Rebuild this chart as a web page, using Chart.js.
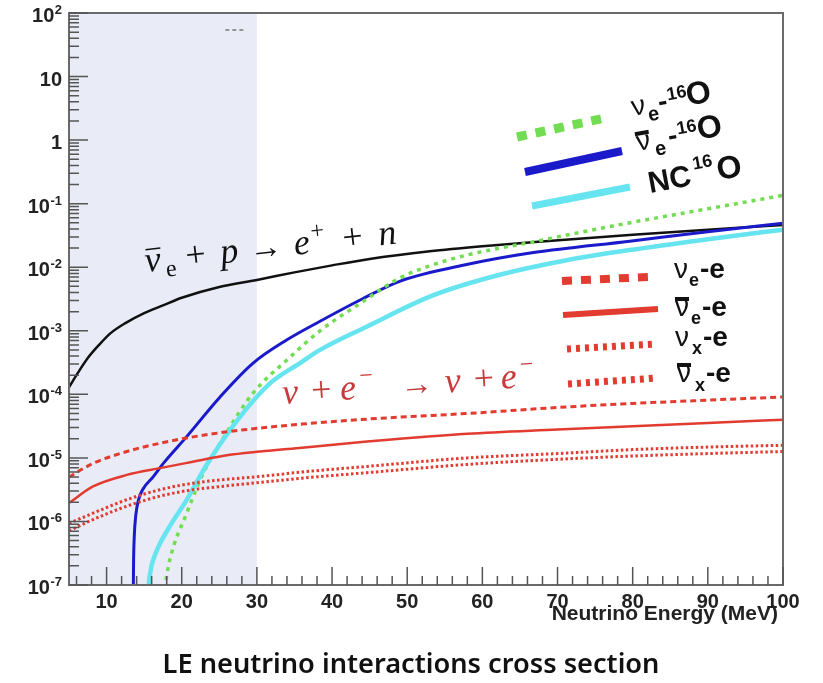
<!DOCTYPE html>
<html>
<head>
<meta charset="utf-8">
<script src="https://cdn.jsdelivr.net/npm/chart.js@4.4.0/dist/chart.umd.min.js"></script>
<style>
html, body { margin: 0; padding: 0; background: #fff; }
#c { display: block; }
</style>
</head>
<body>
<canvas id="c" width="823" height="683"></canvas>
<script>
// energies (MeV) and cross sections

// anti-nu_e + p -> e+ + n
const ibdE = [5, 6.2, 7.5, 9, 10.5, 12.5, 15, 17.5, 20, 25, 30, 35, 40, 45, 53, 60, 67, 80, 90, 100]
const ibdSigma = [1.29e-4, 2.19e-4, 3.72e-4, 6.0e-4, 9.1e-4, 1.32e-3, 1.9e-3, 2.51e-3, 3.31e-3, 4.9e-3, 6.3e-3, 8.3e-3, 1.07e-2, 1.35e-2, 1.78e-2, 2.14e-2, 2.5e-2, 3.24e-2, 3.9e-2, 4.6e-2]

// anti-nu_e - 16O
const nuebarOE = [13.555, 13.595, 13.69, 13.89, 14.25, 14.85, 16.22, 17.55, 20.66, 25.1, 29.5, 34, 38.4, 44, 49, 57.9, 66.8, 79.6, 90, 100]
const nuebarOSigma = [8.4e-8, 2.45e-7, 6.0e-7, 1.26e-6, 2.19e-6, 3.24e-6, 5.07e-6, 8.2e-6, 2.16e-5, 9.1e-5, 3.1e-4, 7.2e-4, 1.41e-3, 3.16e-3, 6.0e-3, 1.1e-2, 1.7e-2, 2.57e-2, 3.63e-2, 4.9e-2]

// nu_e - 16O
const nueOE = [17.5, 18.4, 20.66, 22.87, 25.1, 29.5, 34, 38.4, 44, 49, 53, 57.9, 66.8, 78.3, 90, 100]
const nueOSigma = [6.3e-8, 2.45e-7, 1.35e-6, 5.75e-6, 1.7e-5, 1.05e-4, 3.47e-4, 1.0e-3, 2.82e-3, 6.76e-3, 1.05e-2, 1.55e-2, 2.51e-2, 4.68e-2, 8.3e-2, 0.135]

// NC 16O
const ncOE = [15.55, 15.71, 15.98, 16.44, 17.11, 18.44, 20.66, 23.32, 27.31, 31.74, 35.73, 38.4, 44.6, 53.5, 62.3, 71.2, 79.6, 90, 100]
const ncOSigma = [8.4e-8, 1.29e-7, 2.0e-7, 2.97e-7, 4.5e-7, 8.5e-7, 2.19e-6, 7.8e-6, 3.8e-5, 1.49e-4, 3.1e-4, 5.0e-4, 1.16e-3, 3.63e-3, 7.6e-3, 1.29e-2, 1.86e-2, 2.75e-2, 3.9e-2]

// nu - e elastic scattering
const esE = [5, 8.2, 12.7, 17.1, 21.5, 26, 30.4, 36, 45, 58, 70, 80, 90, 100]
const nueESigma = [5.0e-6, 8.2e-6, 1.26e-5, 1.7e-5, 2.14e-5, 2.57e-5, 2.95e-5, 3.4e-5, 4.1e-5, 5.0e-5, 6.2e-5, 7.2e-5, 8.1e-5, 9.1e-5]
const nuebarESigma = [1.95e-6, 3.55e-6, 5.4e-6, 6.9e-6, 8.7e-6, 1.1e-5, 1.26e-5, 1.45e-5, 1.82e-5, 2.4e-5, 2.8e-5, 3.16e-5, 3.55e-5, 4.0e-5]
const nuxESigma = [9.3e-7, 1.35e-6, 2.2e-6, 3.16e-6, 4.0e-6, 4.6e-6, 5.1e-6, 6.0e-6, 7.4e-6, 1.0e-5, 1.17e-5, 1.35e-5, 1.48e-5, 1.58e-5]
const nuxbarESigma = [7.1e-7, 1.07e-6, 1.74e-6, 2.5e-6, 3.16e-6, 3.63e-6, 4.1e-6, 4.8e-6, 5.9e-6, 7.9e-6, 9.5e-6, 1.07e-5, 1.17e-5, 1.26e-5]

// little dashed mark near the top of the frame
const markE = [25.8, 28.4]
const markY = [54, 54]

// shaded low-energy band
const bandFrom = 5, bandTo = 30

// axis ticks
const xMajor = [10, 20, 30, 40, 50, 60, 70, 80, 90, 100]
const xMinor = [6, 8, 12, 14, 16, 18, 22, 24, 26, 28, 32, 34, 36, 38, 42, 44, 46, 48, 52, 54, 56, 58, 62, 64, 66, 68, 72, 74, 76, 78, 82, 84, 86, 88, 92, 94, 96, 98]
const xLabels = ['10', '20', '30', '40', '50', '60', '70', '80', '90', '100']
const yDecades = [-7, -6, -5, -4, -3, -2, -1, 0, 1, 2]

const xAxisTitle = 'Neutrino Energy (MeV)'
const pageTitle = 'LE neutrino interactions cross section'

const pts = (xs, ys) => xs.map((x, i) => ({x: x, y: ys[i]}))

const RED = '#e23b30'

const line = (xs, ys, color, width, dash) => ({
    data: pts(xs, ys),
    borderColor: color,
    borderWidth: width,
    borderDash: dash || [],
    pointRadius: 0,
    fill: false,
    cubicInterpolationMode: 'monotone',
    clip: 0
})

// draw a row of text pieces along a (rotated) baseline
function pieces(ctx, ox, oy, ang, color, list) {
    ctx.save()
    ctx.translate(ox, oy)
    ctx.rotate(ang * Math.PI / 180)
    ctx.fillStyle = color
    ctx.textAlign = 'left'
    ctx.textBaseline = 'alphabetic'
    list.forEach(p => {
        ctx.font = p.f
        ctx.fillText(p.t, p.x, p.y || 0)
        if (p.bar) {
            const w = ctx.measureText(p.t).width
            ctx.fillRect(p.x + p.bar[0], p.bar[1], w + p.bar[2], p.bar[3])
        }
    })
    ctx.restore()
}

function sample(ctx, x1, y1, x2, y2, color, width, dash) {
    ctx.save()
    ctx.strokeStyle = color
    ctx.lineWidth = width
    ctx.lineCap = 'butt'
    ctx.setLineDash(dash || [])
    ctx.beginPath()
    ctx.moveTo(x1, y1)
    ctx.lineTo(x2, y2)
    ctx.stroke()
    ctx.restore()
}

const decor = {
    id: 'decor',
    beforeDatasetsDraw(chart) {
        const {ctx, chartArea: a, scales: {x}} = chart
        ctx.save()
        ctx.fillStyle = '#e9ecf6'
        const l = x.getPixelForValue(bandFrom), r = x.getPixelForValue(bandTo)
        ctx.fillRect(l, a.top, r - l, a.bottom - a.top)
        ctx.restore()
    },
    afterDatasetsDraw(chart) {
        const {ctx, chartArea: a, scales: {x, y}} = chart
        ctx.save()

        // frame
        ctx.strokeStyle = '#6a6a6a'
        ctx.lineWidth = 2
        ctx.strokeRect(a.left, a.top, a.right - a.left, a.bottom - a.top)

        // ticks (pointing inwards)
        ctx.strokeStyle = '#555'
        ctx.lineWidth = 1.5
        ctx.beginPath()
        xMajor.forEach(v => { const p = x.getPixelForValue(v); ctx.moveTo(p, a.bottom); ctx.lineTo(p, a.bottom - 18) })
        xMinor.forEach(v => { const p = x.getPixelForValue(v); ctx.moveTo(p, a.bottom); ctx.lineTo(p, a.bottom - 9) })
        yDecades.forEach(d => {
            const p = y.getPixelForValue(Math.pow(10, d))
            ctx.moveTo(a.left, p); ctx.lineTo(a.left + 19, p)
            if (d < 2) {
                for (let k = 2; k <= 9; k++) {
                    const q = y.getPixelForValue(k * Math.pow(10, d))
                    ctx.moveTo(a.left, q); ctx.lineTo(a.left + 10, q)
                }
            }
        })
        ctx.stroke()

        // tick labels
        ctx.fillStyle = '#222'
        ctx.textBaseline = 'alphabetic'
        ctx.font = 'bold 20px "Liberation Sans", Arial, sans-serif'
        ctx.textAlign = 'center'
        xMajor.forEach((v, i) => ctx.fillText(xLabels[i], x.getPixelForValue(v), a.bottom + 23))

        yDecades.forEach(d => {
            const p = y.getPixelForValue(Math.pow(10, d))
            const right = 62
            ctx.textAlign = 'right'
            if (d === 0 || d === 1) {
                ctx.font = 'bold 20px "Liberation Sans", Arial, sans-serif'
                ctx.fillText(d === 0 ? '1' : '10', right, p + 9)
            } else {
                ctx.font = 'bold 13px "Liberation Sans", Arial, sans-serif'
                const ex = String(d)
                const w = ctx.measureText(ex).width
                ctx.fillText(ex, right, p + 1)
                ctx.font = 'bold 20px "Liberation Sans", Arial, sans-serif'
                ctx.fillText('10', right - w - 0.5, p + 9)
            }
        })

        // axis title
        ctx.textAlign = 'right'
        ctx.font = 'bold 21px "Liberation Sans", Arial, sans-serif'
        ctx.fillText(xAxisTitle, a.right - 5, a.bottom + 35)

        // formulas
        const it = 'italic 36px "Liberation Serif", serif'
        const up = '36px "Liberation Serif", serif'
        const ar = '33px "Liberation Serif", serif'
        const sm = '24px "Liberation Serif", serif'
        pieces(ctx, 146, 272, -6.5, '#111', [
            {t: 'ν', f: it, x: 0, bar: [2, -23, -1, 1.6]},
            {t: 'e', f: sm, x: 20, y: 7},
            {t: '+', f: up, x: 41},
            {t: 'p', f: it, x: 76},
            {t: '→', f: ar, x: 105},
            {t: 'e', f: it, x: 150},
            {t: '+', f: sm, x: 168, y: -14},
            {t: '+', f: up, x: 199},
            {t: 'n', f: it, x: 235}
        ])
        pieces(ctx, 283, 404, -4, '#c8393b', [
            {t: 'ν', f: it, x: 0},
            {t: '+', f: up, x: 29},
            {t: 'e', f: it, x: 58},
            {t: '−', f: sm, x: 78, y: -15},
            {t: '→', f: ar, x: 118},
            {t: 'ν', f: it, x: 163},
            {t: '+', f: up, x: 192},
            {t: 'e', f: it, x: 219},
            {t: '−', f: sm, x: 239, y: -15}
        ])

        // 16O legend (tilted)
        sample(ctx, 517, 137, 605, 118, '#72dd52', 9, [10, 9])
        sample(ctx, 525, 172, 622, 151, '#1a1acb', 8)
        sample(ctx, 532, 206, 630, 187, '#66e4ef', 7)
        const nu = '28px "Liberation Sans", Arial, sans-serif'
        const sub = 'bold 20px "Liberation Sans", Arial, sans-serif'
        const big = 'bold 28px "Liberation Sans", Arial, sans-serif'
        const sup = 'bold 18px "Liberation Sans", Arial, sans-serif'
        const oo = 'bold 32px "Liberation Sans", Arial, sans-serif'
        pieces(ctx, 633, 116, -10.5, '#111', [
            {t: 'ν', f: nu, x: 0},
            {t: 'e', f: sub, x: 15, y: 8},
            {t: '-', f: big, x: 27},
            {t: '16', f: sup, x: 37, y: -9},
            {t: 'O', f: oo, x: 56}
        ])
        pieces(ctx, 638, 151, -10.5, '#111', [
            {t: 'ν', f: nu, x: 0, bar: [0, -19, 0, 4]},
            {t: 'e', f: sub, x: 17, y: 8},
            {t: '-', f: big, x: 32},
            {t: '16', f: sup, x: 42, y: -9},
            {t: 'O', f: oo, x: 62}
        ])
        pieces(ctx, 650, 193, -10.5, '#111', [
            {t: 'NC', f: 'bold 30px "Liberation Sans", Arial, sans-serif', x: 0},
            {t: '16', f: sup, x: 47, y: -15},
            {t: 'O', f: oo, x: 70}
        ])

        // nu-e legend
        sample(ctx, 562, 281, 648, 277, RED, 8, [10, 9])
        sample(ctx, 563, 315, 658, 309, RED, 6)
        sample(ctx, 567, 349, 655, 344, RED, 7, [4, 5])
        sample(ctx, 568, 384, 657, 378, RED, 7, [4, 5])
        const sub2 = 'bold 18px "Liberation Sans", Arial, sans-serif'
        pieces(ctx, 674, 278, 0, '#111', [
            {t: 'ν', f: nu, x: 0}, {t: 'e', f: sub2, x: 15, y: 8}, {t: '-e', f: big, x: 26}
        ])
        pieces(ctx, 675, 316, 0, '#111', [
            {t: 'ν', f: nu, x: 0, bar: [0, -19, 0, 4]}, {t: 'e', f: sub2, x: 16, y: 8}, {t: '-e', f: big, x: 27}
        ])
        pieces(ctx, 675, 346, 0, '#111', [
            {t: 'ν', f: nu, x: 0}, {t: 'x', f: sub2, x: 17, y: 8}, {t: '-e', f: big, x: 28}
        ])
        pieces(ctx, 677, 382, 0, '#111', [
            {t: 'ν', f: nu, x: 0, bar: [0, -19, 0, 4]}, {t: 'x', f: sub2, x: 18, y: 9}, {t: '-e', f: big, x: 29}
        ])

        // page title
        ctx.textAlign = 'center'
        ctx.fillStyle = '#111'
        ctx.font = '600 27px "Noto Sans", sans-serif'
        const tw = ctx.measureText(pageTitle).width
        const fs = 27 * 497 / tw
        ctx.font = '600 ' + fs.toFixed(1) + 'px "Noto Sans", sans-serif'
        ctx.fillText(pageTitle, 411, 673)

        ctx.restore()
    }
}

new Chart(document.getElementById('c'), {
    type: 'line',
    data: {
        datasets: [
            line(markE, markY, '#777', 1.5, [4, 3]),
            line(esE, nuxbarESigma, RED, 3, [2.5, 2.5]),
            line(esE, nuxESigma, RED, 3, [2.5, 2.5]),
            line(esE, nuebarESigma, RED, 2.5),
            line(esE, nueESigma, RED, 3, [6, 4]),
            line(ncOE, ncOSigma, '#66e4ef', 4.5),
            line(nueOE, nueOSigma, '#72dd52', 3.5, [4, 5]),
            line(nuebarOE, nuebarOSigma, '#1a1acb', 3),
            line(ibdE, ibdSigma, '#111', 2.5)
        ]
    },
    options: {
        responsive: false,
        animation: false,
        layout: {padding: {left: 69, top: 13, right: 40, bottom: 98}},
        scales: {
            x: {type: 'linear', min: 5, max: 100, display: false},
            y: {type: 'logarithmic', min: 1e-7, max: 100, display: false}
        },
        plugins: {legend: {display: false}, tooltip: {enabled: false}, title: {display: false}}
    },
    plugins: [decor]
})
</script>
</body>
</html>
